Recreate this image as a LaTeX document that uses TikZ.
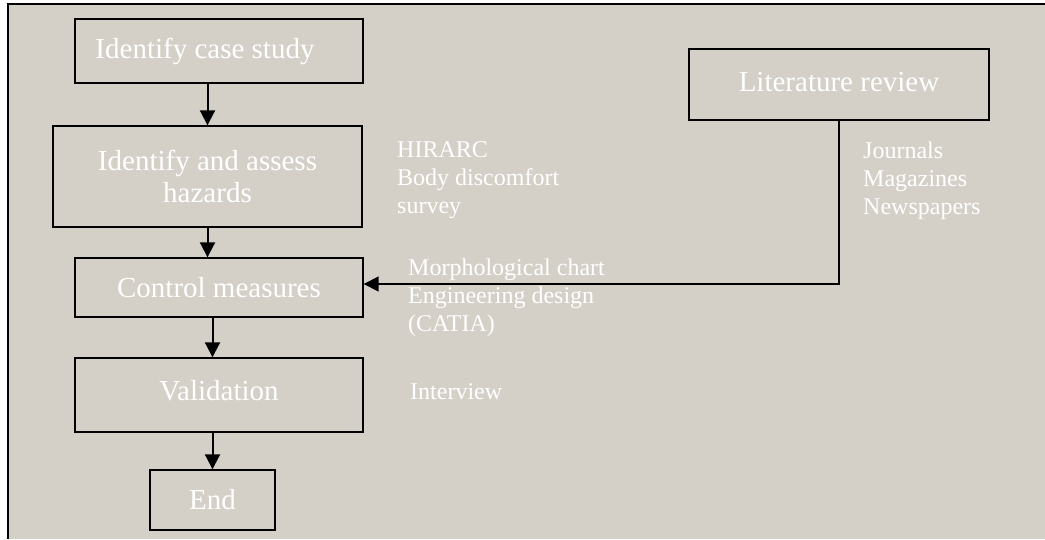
\documentclass[tikz,border=0pt]{standalone}
\usepackage{fontspec}
\setmainfont{Liberation Serif}
\usetikzlibrary{arrows.meta,positioning,calc}
\definecolor{panelgray}{HTML}{D4D0C8}

\begin{document}
\begin{tikzpicture}[x=1pt,y=-1pt,
  stagebox/.style={draw=black,line width=1.4pt,inner sep=0pt,text=white,
    font=\fontsize{29}{32}\selectfont,align=center},
  toollist/.style={inner sep=0pt,anchor=west,align=left,text=white,
    font=\fontsize{24}{28}\selectfont},
  flowarrow/.style={line width=2pt,-{Triangle[length=15pt,width=15pt]}}]
\useasboundingbox (0,0) rectangle (1045,539);
\fill[panelgray] (8,4) rectangle (1045,539);
\draw[line width=1.4pt] (8,539) -- (8,4) -- (1045,4);
% main steps
\node[stagebox,minimum width=288pt,minimum height=64pt] (case) at (219,51) {Identify case study\hspace{28pt}};
\node[stagebox,minimum width=309pt,minimum height=101pt] (assess) at (207.5,176.5) {Identify and assess\\hazards};
\node[stagebox,minimum width=288pt,minimum height=59pt] (control) at (219,287.5) {Control measures};
\node[stagebox,minimum width=288pt,minimum height=74pt] (valid) at (219,395) {\raisebox{10pt}{Validation}};
\node[stagebox,minimum width=125pt,minimum height=60pt] (finish) at (212.5,500) {End};
\node[stagebox,minimum width=300pt,minimum height=71pt] (lit) at (839,84.5) {\raisebox{6pt}{Literature review}};
% tools beside the steps
\node[toollist] (hazardtools) at (397,180) {HIRARC\\Body discomfort\\survey};
\node[toollist] (designtools) at (408,298) {Morphological chart\\Engineering design\\(CATIA)};
\node[toollist] (validtools) at (410,392) {Interview};
\node[toollist] (littools) at (863,181) {Journals\\Magazines\\Newspapers};
% arrows
\draw[flowarrow] (case.south -| assess) -- (assess.north);
\draw[flowarrow] (assess.south) -- (control.north -| assess);
\draw[flowarrow] (control.south -| finish) -- (valid.north -| finish);
\draw[flowarrow] (valid.south -| finish) -- (finish.north);
\draw[line width=1.6pt,-{Triangle[length=15pt,width=15pt]}] (lit.south) |- ([yshift=3.5pt]control.east);
\end{tikzpicture}
\end{document}
